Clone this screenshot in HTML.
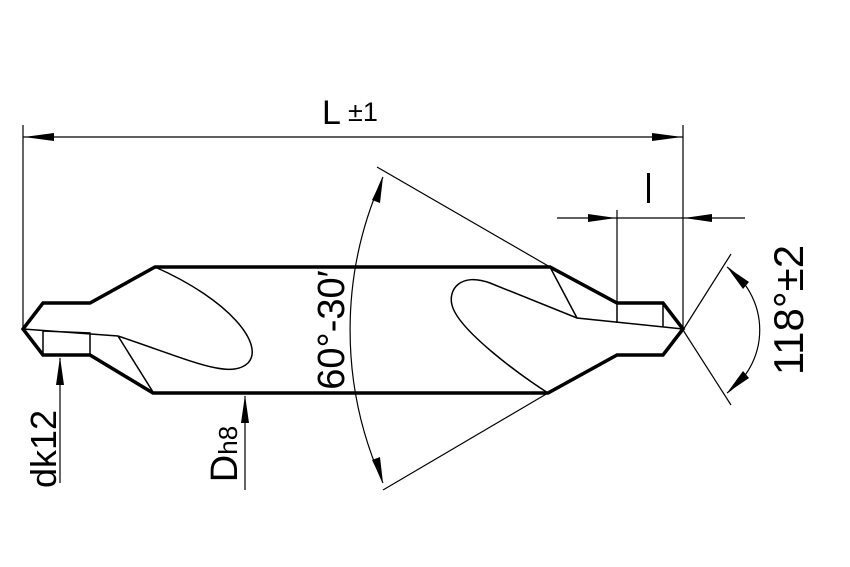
<!DOCTYPE html>
<html><head><style>html,body{margin:0;padding:0;background:#fff}svg{display:block}</style></head>
<body>
<svg width="850" height="567" viewBox="0 0 850 567" xmlns="http://www.w3.org/2000/svg" font-family="Liberation Sans, sans-serif">
<g fill="none" stroke="#000" stroke-linejoin="miter">
<path d="M155,267 L550,267 L617,303 L663,303 L683,329 L663,355 L617,355 L548,393 L153,393 L90,355 L43,355 L23,329 L43,303 L90,303 Z" stroke-width="3.5"/>
<path d="M23,329 L118,336 M43,331 L43,355 M43,331 L90,333 L90,355 M118,336 L153,392" stroke-width="1.5"/>
<path d="M155,267 C230,300 265,345 248,363 C230,380 190,360 118,336" stroke-width="1.5"/>
<path d="M550,267 L577,318 L683,329 M617,303 L617,323 M663,303 L663,327" stroke-width="1.5"/>
<path d="M577,318 L490,283 C460,272 448,290 452,305 C458,330 520,375 548,393" stroke-width="1.5"/>
<path d="M23,125 L23,329 M683,125 L683,329 M23,137 L683,137" stroke-width="1.2"/>
<path d="M617,210 L617,303 M557,218 L745,218" stroke-width="1.2"/>
<path d="M683,330 L731,254 M683,330 L731,405" stroke-width="1.2"/>
<path d="M727,267 A77,77 0 0 1 727,393" stroke-width="1.2"/>
<path d="M377,167 L550,267 M383,490 L548,393" stroke-width="1.2"/>
<path d="M383,177 A372,372 0 0 0 383,483" stroke-width="1.2"/>
<path d="M60,358 L60,483 M245,396 L245,490" stroke-width="1.2"/>
</g>
<g fill="#000">
<path d="M24,137 L54,133 L54,141 Z"/>
<path d="M682,137 L652,133 L652,141 Z"/>
<path d="M616,218 L588,214 L588,222 Z"/>
<path d="M684,218 L712,214 L712,222 Z"/>
<path d="M60,357 L56,385 L64,385 Z"/>
<path d="M245,395 L241,423 L249,423 Z"/>
<path d="M383,177 L372,200 L380,203 Z"/>
<path d="M383,483 L372,460 L380,457 Z"/>
<path d="M727,267 L749,282 L743,289 Z"/>
<path d="M727,393 L749,378 L743,371 Z"/>
</g>
<g fill="#000" font-size="34">
<text x="322" y="124">L</text>
<text x="348" y="121" font-size="27">±1</text>
<rect x="647" y="173" width="3" height="30"/>
<text transform="translate(803,310) rotate(-90)" text-anchor="middle" font-size="42">118°±2</text>
<text transform="translate(344,330) rotate(-90)" text-anchor="middle" font-size="38">60°-30′</text>
<text transform="translate(56,449) rotate(-90)" text-anchor="middle" font-size="36">dk12</text>
<text transform="translate(237,454) rotate(-90)" text-anchor="middle" font-size="38">D<tspan font-size="26">h8</tspan></text>
</g>
</svg>
</body></html>
